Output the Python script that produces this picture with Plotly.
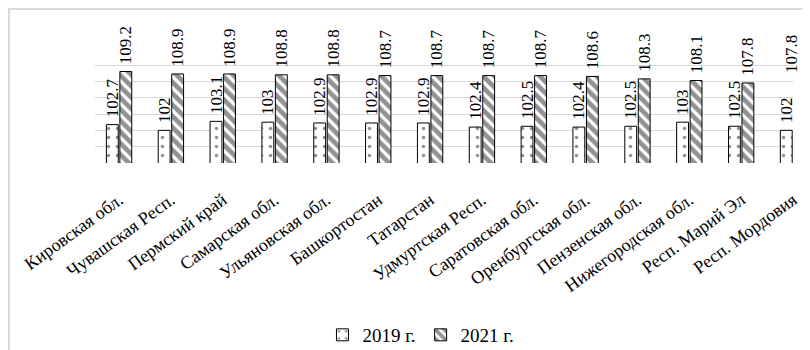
import plotly.graph_objects as go

categories = ["Кировская обл.", "Чувашская Респ.", "Пермский край", "Самарская обл.",
              "Ульяновская обл.", "Башкортостан", "Татарстан", "Удмуртская Респ.",
              "Саратовская обл.", "Оренбургская обл.", "Пензенская обл.",
              "Нижегородская обл.", "Респ. Марий Эл", "Респ. Мордовия"]
values_2019 = [102.7, 102, 103.1, 103, 102.9, 102.9, 102.9, 102.4, 102.5, 102.4, 102.5, 103, 102.5, 102]
values_2021 = [109.2, 108.9, 108.9, 108.8, 108.8, 108.7, 108.7, 108.7, 108.7, 108.6, 108.3, 108.1, 107.8, 107.8]
series_names = ["2019 г.", "2021 г."]
grid_values = [98, 100, 102, 104, 106, 108, 110]

FONT = "Liberation Serif"
idx = list(range(len(categories)))

fig = go.Figure()
fig.add_trace(go.Bar(
    x=idx, y=values_2019, name=series_names[0],
    marker=dict(color="white", line=dict(color="black", width=1),
                pattern=dict(shape=".", fgcolor="#222222", bgcolor="white", size=9, solidity=0.12)),
    texttemplate="\u00a0%{y}", textposition="outside", textangle=-90, constraintext="none",
    cliponaxis=True, textfont=dict(family=FONT, size=17, color="black"),
))
fig.add_trace(go.Bar(
    x=idx, y=values_2021, name=series_names[1],
    marker=dict(color="white", line=dict(color="black", width=1),
                pattern=dict(shape="\\", fgcolor="#262626", bgcolor="white", size=8, solidity=0.6)),
    texttemplate="\u00a0%{y}", textposition="outside", textangle=-90, constraintext="none",
    cliponaxis=True, textfont=dict(family=FONT, size=17, color="black"),
))

# last 2021 label: its bar lies beyond the plot edge, the label is kept inside
last = len(categories) - 1
fig.add_annotation(x=last, y=values_2021[last], text=f"{values_2021[last]:g}", textangle=-90,
                   showarrow=False, yanchor="bottom", xanchor="center", xshift=-1, yshift=8,
                   font=dict(family=FONT, size=17, color="black"))

fig.update_layout(
    width=802, height=342,
    margin=dict(l=87, r=17, t=8, b=187, autoexpand=False),
    paper_bgcolor="white", plot_bgcolor="white",
    barmode="group", bargap=0.48, bargroupgap=0.12,
    font=dict(family=FONT, size=18, color="black"),
    showlegend=True,
    legend=dict(orientation="h", x=0.467, xanchor="center", y=-1.17, yanchor="middle",
                font=dict(family=FONT, size=19), itemwidth=30, traceorder="normal"),
    xaxis=dict(range=[-0.464, 13.0], tickmode="array", tickvals=idx, automargin=False,
               ticktext=categories, tickangle=-36, showgrid=False, zeroline=False,
               showline=False, ticks="", ticklabelstandoff=22,
               tickfont=dict(family=FONT, size=18)),
    yaxis=dict(range=[98, 116], tickmode="array", tickvals=grid_values, showgrid=True,
               gridcolor="#d9d9d9", gridwidth=1, showticklabels=False, zeroline=False,
               showline=False, ticks="", automargin=False),
    shapes=[dict(type="rect", xref="paper", yref="paper", x0=-0.1232, x1=1.2, y0=-2.0, y1=1.0476,
                 line=dict(color="#d9d9d9", width=2), fillcolor="rgba(0,0,0,0)", layer="below")],
)

fig.write_html("out.html")
